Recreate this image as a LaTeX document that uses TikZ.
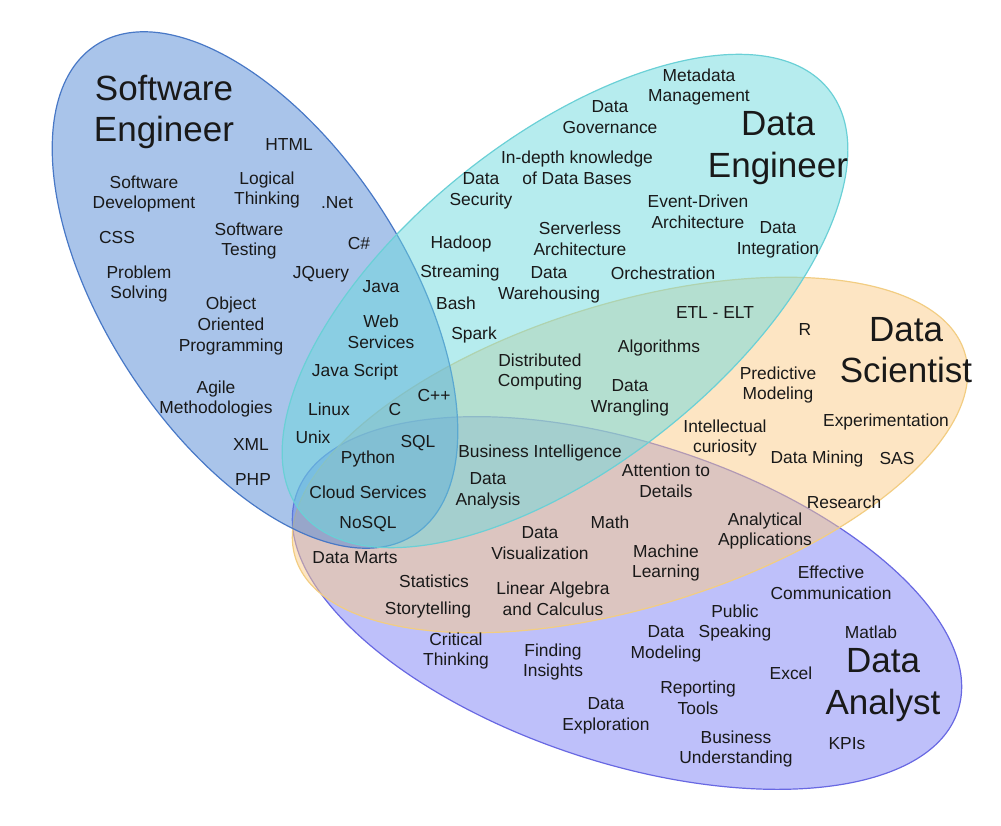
\documentclass[tikz,border=0pt]{standalone}
\usepackage{fontspec}
\setmainfont{Liberation Sans}
\usetikzlibrary{shapes,positioning}
\definecolor{ink}{RGB}{25,25,25}
\definecolor{seFill}{RGB}{83,137,213}
\definecolor{seLine}{RGB}{72,120,198}
\definecolor{deFill}{RGB}{109,217,221}
\definecolor{deLine}{RGB}{106,208,214}
\definecolor{dsFill}{RGB}{251,203,135}
\definecolor{dsLine}{RGB}{242,205,130}
\definecolor{daFill}{RGB}{125,129,245}
\definecolor{daLine}{RGB}{104,104,226}
\newcommand{\skillfont}{\fontsize{17.4}{20.7}\selectfont}
\newcommand{\rolefont}{\fontsize{35}{41.5}\selectfont}
\tikzset{set/.style={shape=ellipse, inner sep=0pt, fill opacity=0.5, line width=1.2pt}}

\begin{document}
\begin{tikzpicture}[x=1pt, y=-1pt, align=center]
  \tikzstyle{every node}=[font=\skillfont, text=ink]
  \tikzstyle{role}=[font=\rolefont]
    \useasboundingbox (0,0) rectangle (1001,826);

    % the four sets
    \node(da) at (627,603) [set, draw=daLine, fill=daFill, minimum width=696pt, minimum height=320pt, rotate=-18] {};
    \node(ds) at (630,455) [set, draw=dsLine, fill=dsFill, minimum width=700pt, minimum height=304pt, rotate=17] {};
    \node(se) at (255,290) [set, draw=seLine, fill=seFill, minimum width=584pt, minimum height=300pt, rotate=-57] {};
    \node(de) at (565,301) [set, draw=deLine, fill=deFill, minimum width=676pt, minimum height=326pt, rotate=38.7] {};

    % titles
    \node(seT) at (164,112) [role] {Software\\Engineer};
    \node(deT) at (778,148) [role] {Data\\Engineer};
    \node(dsT) at (906,350) [role] {Data\\Scientist};
    \node(daT) at (883,685) [role] {Data\\Analyst};

    % software engineer
    \node(html) at (289,145) {HTML};
    \node(swdev) at (144,194) {Software\\Development};
    \node(logic) at (267,190) {Logical\\Thinking};
    \node(net) at (337,203) {.Net};
    \node(css) at (117,238) {CSS};
    \node(test) at (249,241) {Software\\Testing};
    \node(csharp) at (359,244) {C\#};
    \node(prob) at (139,284) {Problem\\Solving};
    \node(jquery) at (321,274) {JQuery};
    \node(oop) at (231,326) {Object\\Oriented\\Programming};
    \node(agile) at (216,399) {Agile\\Methodologies};
    \node(xml) at (251,445) {XML};
    \node(php) at (253,480) {PHP};

    % software and data engineer
    \node(java) at (381,287) {Java};
    \node(web) at (381,332) {Web\\Services};
    \node(js) at (355,372) {Java Script};
    \node(linux) at (329,409) {Linux};
    \node(unix) at (313,437) {Unix};
    \node(c) at (395,410) {C};
    \node(cpp) at (434,396) {C++};
    \node(sql) at (418,443) {SQL};
    \node(python) at (368,459) {Python};
    \node(cloud) at (368,492) {Cloud Services};
    \node(nosql) at (368,524) {NoSQL};

    % data engineer
    \node(meta) at (699,87) {Metadata\\Management};
    \node(gov) at (610,117) {Data\\Governance};
    \node(indepth) at (577,168) {In-depth knowledge\\of Data Bases};
    \node(secur) at (481,191) {Data\\Security};
    \node(event) at (698,212) {Event-Driven\\Architecture};
    \node(serverless) at (580,239) {Serverless\\Architecture};
    \node(integ) at (778,240) {Data\\Integration};
    \node(hadoop) at (461,244) {Hadoop};
    \node(stream) at (460,273) {Streaming};
    \node(wareh) at (549,285) {Data\\Warehousing};
    \node(orch) at (663,273) {Orchestration};
    \node(bash) at (456,303) {Bash};
    \node(spark) at (474,335) {Spark};

    % data engineer and data scientist
    \node(etl) at (715,313) {ETL - ELT};
    \node(distr) at (540,372) {Distributed\\Computing};
    \node(algo) at (659,348) {Algorithms};
    \node(wrang) at (630,398) {Data\\Wrangling};
    \node(bi) at (540,453) {Business Intelligence};
    \node(analysis) at (488,491) {Data\\Analysis};

    % data scientist
    \node(r) at (805,330) {R};
    \node(pred) at (778,385) {Predictive\\Modeling};
    \node(exper) at (886,422) {Experimentation};
    \node(curio) at (725,438) {Intellectual\\curiosity};
    \node(mining) at (817,459) {Data Mining};
    \node(sas) at (897,459) {SAS};
    \node(research) at (844,502) {Research};

    % data scientist and data analyst
    \node(attn) at (666,481) {Attention to\\Details};
    \node(math) at (610,522) {Math};
    \node(appl) at (765,531) {Analytical\\Applications};
    \node(visu) at (540,543) {Data\\Visualization};
    \node(ml) at (666,563) {Machine\\Learning};
    \node(marts) at (355,558) {Data Marts};
    \node(stats) at (434,581) {Statistics};
    \node(story) at (428,610) {Storytelling};
    \node(linalg) at (553,599) {Linear Algebra\\and Calculus};

    % data analyst
    \node(effect) at (831,583) {Effective\\Communication};
    \node(speak) at (735,623) {Public\\Speaking};
    \node(matlab) at (871,632) {Matlab};
    \node(crit) at (456,651) {Critical\\Thinking};
    \node(find) at (553,662) {Finding\\Insights};
    \node(model) at (666,644) {Data\\Modeling};
    \node(excel) at (791,673) {Excel};
    \node(report) at (698,698) {Reporting\\Tools};
    \node(explor) at (606,716) {Data\\Exploration};
    \node(busu) at (736,749) {Business\\Understanding};
    \node(kpi) at (847,744) {KPIs};

  \end{tikzpicture}
\end{document}
